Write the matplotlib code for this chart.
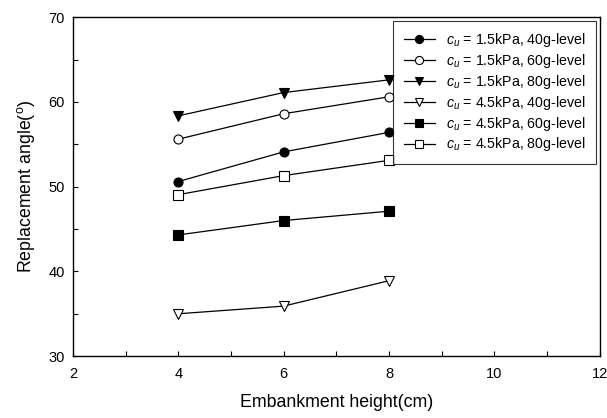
import matplotlib
matplotlib.use('Agg')
import matplotlib.pyplot as plt
from matplotlib.ticker import MultipleLocator

plt.rcParams['font.family'] = ['Liberation Sans', 'DejaVu Sans']
plt.rcParams['mathtext.fontset'] = 'custom'
plt.rcParams['mathtext.rm'] = 'Liberation Sans'
plt.rcParams['mathtext.it'] = 'Liberation Sans:italic'

height = [4, 6, 8]
s15_40 = [50.6, 54.1, 56.4]
s15_60 = [55.6, 58.6, 60.6]
s15_80 = [58.35, 61.1, 62.6]
s45_40 = [35.0, 35.9, 38.9]
s45_60 = [44.3, 46.0, 47.1]
s45_80 = [49.05, 51.3, 53.1]

labels = [r'$c_u$ = 1.5kPa, 40g-level', r'$c_u$ = 1.5kPa, 60g-level',
          r'$c_u$ = 1.5kPa, 80g-level', r'$c_u$ = 4.5kPa, 40g-level',
          r'$c_u$ = 4.5kPa, 60g-level', r'$c_u$ = 4.5kPa, 80g-level']

fig = plt.figure(figsize=(6.07, 4.18), dpi=100)
ax = fig.add_axes([0.120, 0.148, 0.868, 0.811])

styles = [('o', 'black'), ('o', 'white'), ('v', 'black'),
          ('v', 'white'), ('s', 'black'), ('s', 'white')]
series = [s15_40, s15_60, s15_80, s45_40, s45_60, s45_80]
for vals, (m, fc), lab in zip(series, styles, labels):
    ax.plot(height, vals, color='black', lw=0.9, marker=m, ms=6.5,
            mfc=fc, mec='black', mew=0.8, label=lab)

ax.set_xlim(2, 12)
ax.set_ylim(30, 70)
ax.xaxis.set_major_locator(MultipleLocator(2))
ax.xaxis.set_minor_locator(MultipleLocator(1))
ax.yaxis.set_major_locator(MultipleLocator(10))
ax.yaxis.set_minor_locator(MultipleLocator(5))
ax.tick_params(which='both', direction='in', length=3.5, width=0.8, labelsize=10.5)
ax.tick_params(axis='x', pad=8)
ax.tick_params(axis='y', pad=6)
for s in ax.spines.values():
    s.set_linewidth(1.0)

ax.set_xlabel('Embankment height(cm)', fontsize=12.8, labelpad=9)
ax.set_ylabel(r'Replacement angle($^{\rm o}$)', fontsize=12.8, labelpad=8)

leg = ax.legend(loc='upper right', borderaxespad=0.25, fontsize=10.2, frameon=True,
                fancybox=False, edgecolor='black', handlelength=2.2,
                labelspacing=0.2, borderpad=0.75, handletextpad=0.8,
                markerscale=0.9)
leg.get_frame().set_linewidth(0.8)

fig.savefig('out.png', dpi=100)
